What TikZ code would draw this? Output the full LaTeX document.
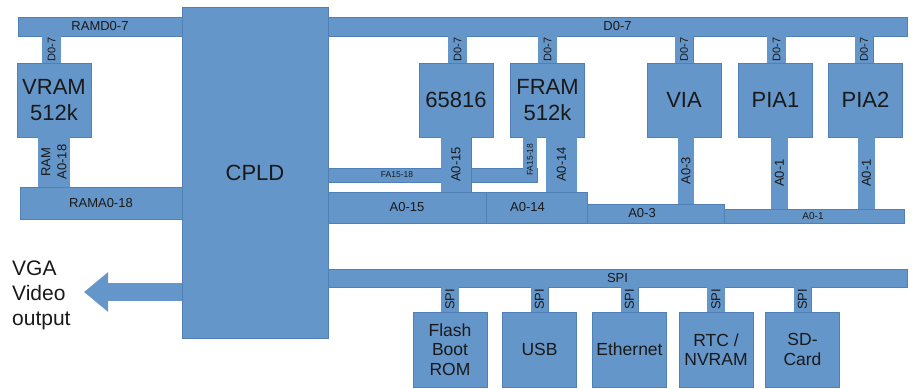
\documentclass[tikz,border=0pt]{standalone}
\usepackage{fontspec}
\setmainfont{Liberation Sans}
\usepackage{xcolor}
\usepackage{tikz}
\usetikzlibrary{positioning, arrows.meta, calc}

\definecolor{busfill}{RGB}{101,150,201}
\definecolor{busedge}{RGB}{80,128,182}
\definecolor{inkgray}{RGB}{25,25,25}

\begin{document}
\begin{tikzpicture}[
    x=1pt, y=-1pt,
    block/.style={rectangle, draw=busedge, fill=busfill, line width=0.4pt, inner sep=0pt, text=inkgray, align=center},
    chip/.style={block, minimum width=74pt, minimum height=74pt, font=\fontsize{22}{26}\selectfont},
    dev/.style={block, minimum width=74pt, minimum height=75pt, font=\fontsize{17.5}{19.5}\selectfont},
    bus/.style={block, font=\fontsize{13}{15}\selectfont},
    stub/.style={draw=busedge, double=busfill, line width=0.4pt, double distance=#1},
    tag/.style={rotate=90, inner sep=0pt, text=inkgray, align=center, font=\fontsize{#1}{16}\selectfont},
    tag/.default=13
]
\useasboundingbox (0,0) rectangle (912,388);

% CPLD in the middle
\node[block, minimum width=146pt, minimum height=331pt, font=\fontsize{22}{26}\selectfont] (cpld) at (255,172.5) {CPLD};

% Busses
\node[bus, minimum width=164pt, minimum height=19pt] (ramd) at (100,26.5) {RAMD0-7};
\node[bus, minimum width=579pt, minimum height=19pt] (dbus) at (617.5,26.5) {D0-7};
\node[bus, minimum width=162pt, minimum height=32pt] (rama) at (101,203) {RAMA0-18};
\node[bus, minimum width=209pt, minimum height=14pt] (fabus) at (432.5,175) {};
\node[text=inkgray, inner sep=0pt, font=\fontsize{8.5}{10}\selectfont] (falbl) at (397,175) {FA15-18};
\node[bus, minimum width=182pt, minimum height=14pt, font=\fontsize{10}{12}\selectfont] (a01) at (813,216) {A0-1};
\node[bus, minimum width=164pt, minimum height=19pt] (a03) at (642,213.5) {A0-3};
\node[bus, minimum width=119pt, minimum height=31pt] (a014) at (527.5,207.5) {A0-14};
\node[bus, minimum width=158pt, minimum height=31pt] (a015) at (407,207.5) {A0-15};
\node[bus, minimum width=579pt, minimum height=18pt] (spi) at (617.5,278) {SPI};

% Chips on the data bus
\node[chip] (vram) at (54,100) {VRAM\\512k};
\node[chip] (cpu) at (456,100) {65816};
\node[chip] (fram) at (547.5,100) {FRAM\\512k};
\node[chip] (via) at (684,100) {VIA};
\node[chip] (pia1) at (775.5,100) {PIA1};
\node[chip] (pia2) at (865.5,100) {PIA2};

% SPI devices
\node[dev] (flash) at (450,349.5) {Flash\\Boot\\ROM};
\node[dev] (usb) at (539.5,349.5) {USB};
\node[dev] (eth) at (629.5,349.5) {Ethernet};
\node[dev] (rtc) at (716,349.5) {RTC /\\NVRAM};
\node[dev] (sd) at (802.5,349.5) {SD-\\Card};

% Data stubs
\draw[stub=18.2pt] ([xshift=-2.5pt]vram.north) -- ([xshift=-2.5pt]vram.north |- ramd.south) node[midway, tag=11] {D0-7};
\draw[stub=18.2pt] ([xshift=1.5pt]cpu.north) -- ([xshift=1.5pt]cpu.north |- dbus.south) node[midway, tag=11] {D0-7};
\draw[stub=18.2pt] (fram.north) -- (fram.north |- dbus.south) node[midway, tag=11] {D0-7};
\draw[stub=18.2pt] (via.north) -- (via.north |- dbus.south) node[midway, tag=11] {D0-7};
\draw[stub=18.2pt] ([xshift=1pt]pia1.north) -- ([xshift=1pt]pia1.north |- dbus.south) node[midway, tag=11] {D0-7};
\draw[stub=18.2pt] ([xshift=-1.5pt]pia2.north) -- ([xshift=-1.5pt]pia2.north |- dbus.south) node[midway, tag=11] {D0-7};

% Address stubs
\draw[stub=31.2pt] (vram.south) -- (vram.south |- rama.north) node[midway, tag] {RAM\\A0-18};
\draw[stub=30.2pt] (cpu.south) -- (cpu.south |- a015.north) node[midway, tag] {A0-15};
\draw[stub=13.2pt] ([xshift=-17.5pt]fram.south) -- ([xshift=-17.5pt]fram.south |- fabus.south) node[midway, tag=8.5] {FA15-18};
\draw[stub=30.2pt] ([xshift=14pt]fram.south) -- ([xshift=14pt]fram.south |- a014.north) node[midway, tag] {A0-14};
\draw[stub=15.2pt] ([xshift=2pt]via.south) -- ([xshift=2pt]via.south |- a03.north) node[midway, tag] {A0-3};
\draw[stub=16.2pt] ([xshift=4pt]pia1.south) -- ([xshift=4pt]pia1.south |- a01.north) node[midway, tag] {A0-1};
\draw[stub=16.2pt] ([xshift=1pt]pia2.south) -- ([xshift=1pt]pia2.south |- a01.north) node[midway, tag] {A0-1};

% SPI stubs
\foreach \d in {flash, usb, eth, rtc, sd}
  \draw[stub=17.2pt] (\d.north) -- (\d.north |- spi.south) node[midway, tag] {SPI};

% Video output
\coordinate (vgatip) at (84,292);
\draw[busfill, line width=18pt, -{Triangle[width=38pt, length=24pt]}] (cpld.west |- vgatip) -- (vgatip);
\node[anchor=west, align=left, inner sep=0pt, text=inkgray, font=\fontsize{21}{25}\selectfont] (vga) at (12,295) {VGA\\Video\\output};

\end{tikzpicture}
\end{document}
